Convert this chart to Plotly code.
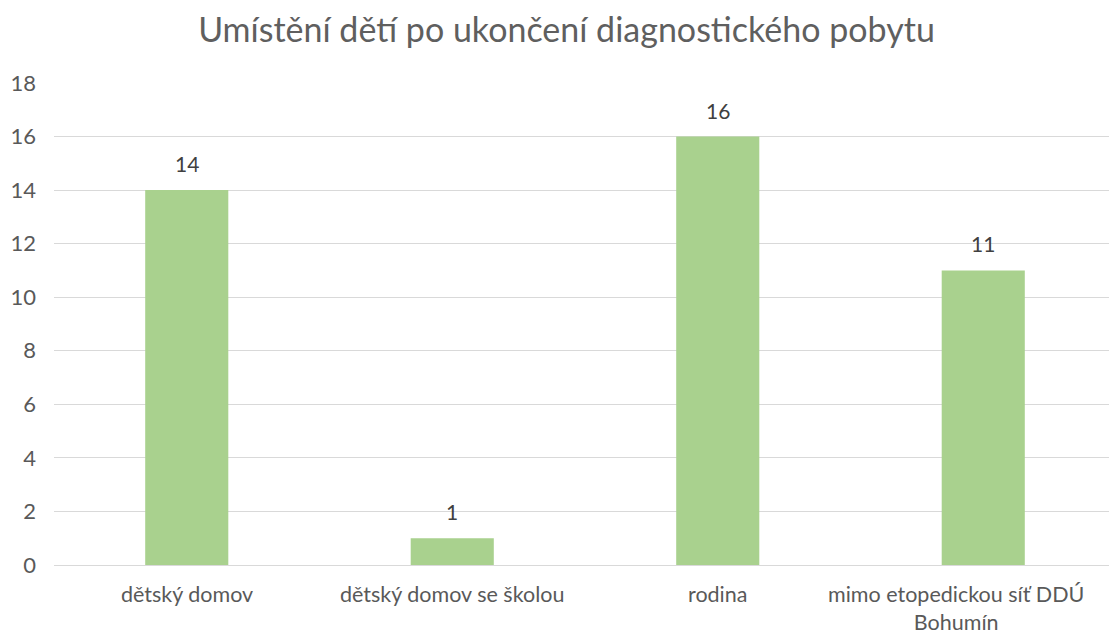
import plotly.graph_objects as go

categories = ["dětský domov", "dětský domov se školou", "rodina", "mimo etopedickou síť DDÚ<br>Bohumín"]
values = [14, 1, 16, 11]
y_ticks = [0, 2, 4, 6, 8, 10, 12, 14, 16, 18]
title_text = "Umístění dětí po ukončení diagnostického pobytu"

FONT = "Lato"
TXT = "#595959"

fig = go.Figure()
fig.add_trace(go.Bar(x=categories, y=values, marker=dict(color="#A9D18E", line=dict(width=0)),
                     hoverinfo="skip"))

for c, v in zip(categories, values):
    fig.add_annotation(x=c, y=v, text=str(v), showarrow=False, yanchor="bottom", yshift=12,
                       font=dict(family=FONT, size=21, color="#404040"))

# category labels (last one nudged left to stay inside the chart, as in the original)
for i, c in enumerate(categories):
    fig.add_annotation(x=c, y=0, text=c, showarrow=False, yanchor="top",
                       yshift=-15, borderpad=0,
                       xshift=-27 if i == len(categories) - 1 else 0, align="center",
                       font=dict(family=FONT, size=21.5, color=TXT))

fig.update_layout(
    width=1117, height=635,
    margin=dict(l=46, r=9, t=75, b=78),
    paper_bgcolor="white", plot_bgcolor="white",
    bargap=0.687,
    showlegend=False,
    title=dict(text=title_text, x=0.5, xanchor="center", y=0.965, yanchor="middle",
               font=dict(family=FONT, size=34, color="#5f5f5f")),
    font=dict(family=FONT, size=22, color=TXT),
)
fig.update_yaxes(range=[0, 18], tickvals=y_ticks, showgrid=True, gridcolor="#D9D9D9", gridwidth=1,
                 zeroline=False, showline=False, ticks="", ticklabelstandoff=17, automargin=False,
                 tickfont=dict(family=FONT, size=22, color=TXT))
fig.update_xaxes(showline=True, linecolor="#D9D9D9", linewidth=1, ticks="", showticklabels=False,
                 automargin=False)

fig.write_html("out.html")
